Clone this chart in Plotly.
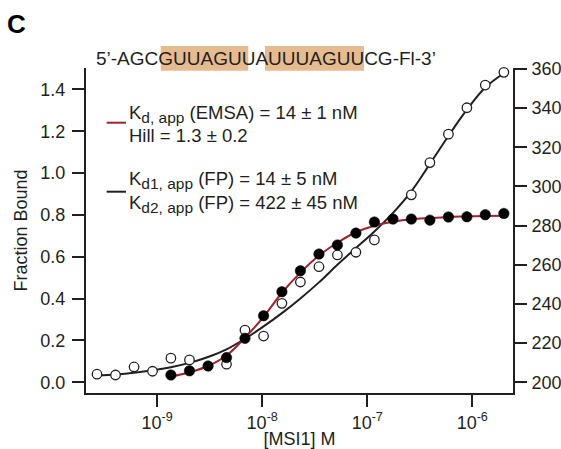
import plotly.graph_objects as go

# ---------------- data ----------------
# FP (fluorescence polarization, mP) - open circles, right axis
fp_conc = [2.67e-10, 4.01e-10, 6.02e-10, 9.02e-10, 1.35e-9, 2.03e-9, 4.57e-9,
           6.85e-9, 1.03e-8, 1.54e-8, 2.31e-8, 3.47e-8, 5.20e-8, 7.80e-8,
           1.17e-7, 2.63e-7, 3.95e-7, 5.93e-7, 8.89e-7, 1.33e-6, 2.00e-6]
fp_mP = [204.1, 203.7, 207.8, 205.6, 212.3, 211.4, 209.2,
         226.6, 223.6, 240.3, 251.2, 259.0, 265.0, 266.4,
         272.7, 295.7, 312.2, 326.7, 340.2, 351.8, 358.3]

# two-site fit curve (black)
fp_fit_conc = [2.67e-10, 4.01e-10, 6.02e-10, 9.02e-10, 1.35e-9, 2.03e-9, 3.05e-9,
               4.57e-9, 6.85e-9, 1.03e-8, 1.54e-8, 2.31e-8, 3.47e-8, 5.20e-8,
               7.80e-8, 1.17e-7, 1.76e-7, 2.63e-7, 3.95e-7, 5.93e-7, 8.89e-7,
               1.33e-6, 2.00e-6]
fp_fit_mP = [203.4, 204.0, 204.9, 206.1, 207.7, 209.9, 212.9,
             216.8, 222.2, 228.5, 235.3, 242.8, 251.0, 260.0,
             268.5, 277.0, 286.5, 297.5, 311.5, 325.8, 339.2,
             350.5, 357.8]

# EMSA fraction bound - filled circles, left axis
emsa_conc = [1.35e-9, 2.03e-9, 3.05e-9, 4.57e-9, 6.85e-9, 1.03e-8, 1.54e-8,
             2.31e-8, 3.47e-8, 5.20e-8, 7.80e-8, 1.17e-7, 1.76e-7, 2.63e-7,
             3.95e-7, 5.93e-7, 8.89e-7, 1.33e-6, 2.00e-6]
emsa_frac = [0.035, 0.055, 0.078, 0.118, 0.210, 0.318, 0.433,
             0.533, 0.613, 0.656, 0.713, 0.766, 0.780, 0.780,
             0.775, 0.790, 0.791, 0.801, 0.807]
# Hill fit curve (red)
emsa_fit = [0.027, 0.048, 0.078, 0.128, 0.213, 0.313, 0.428,
            0.524, 0.606, 0.667, 0.717, 0.748, 0.767, 0.779,
            0.785, 0.790, 0.793, 0.795, 0.796]

x_tickvals = [1e-9, 1e-8, 1e-7, 1e-6]
x_ticktext = ["10<sup>-9</sup>", "10<sup>-8</sup>", "10<sup>-7</sup>", "10<sup>-6</sup>"]
left_ticks = [0.0, 0.2, 0.4, 0.6, 0.8, 1.0, 1.2, 1.4]
right_ticks = [200, 220, 240, 260, 280, 300, 320, 340, 360]

sequence_text = "5\u2019-AGCGUUAGUUAUUUAGUUCG-Fl-3\u2019"
SUB = "<sub><span style='font-size:15.5px'>{}</span></sub>"
legend_lines = ["K" + SUB.format("d, app") + " (EMSA) = 14 \u00b1 1 nM",
                "Hill = 1.3 \u00b1 0.2",
                "K" + SUB.format("d1, app") + " (FP) = 14 \u00b1 5 nM",
                "K" + SUB.format("d2, app") + " (FP) = 422 \u00b1 45 nM"]

# ---------------- style ----------------
FONT = "Liberation Sans, Arial, Helvetica, sans-serif"
INK = "#231f20"
RED = "#a3212a"
PEACH = "#e6bb8f"

W, H = 561, 449
ML, MR, MT, MB = 86, 48, 68, 56
PW, PH = W - ML - MR, H - MT - MB


def px(x):
    return (x - ML) / PW


def py(y):
    return (H - MB - y) / PH


fig = go.Figure()

# FP: black fit + open circles (right axis -> yaxis)
fig.add_trace(go.Scatter(x=fp_fit_conc, y=fp_fit_mP, mode="lines",
                         line=dict(color=INK, width=2, shape="spline"),
                         yaxis="y", showlegend=False, hoverinfo="skip"))
fig.add_trace(go.Scatter(x=fp_conc, y=fp_mP, mode="markers",
                         marker=dict(symbol="circle", size=9.5, color="white",
                                     line=dict(color=INK, width=1.3)),
                         yaxis="y", showlegend=False, cliponaxis=False))
# EMSA: red fit + filled circles (left axis -> yaxis2)
fig.add_trace(go.Scatter(x=emsa_conc, y=emsa_fit, mode="lines",
                         line=dict(color=RED, width=2, shape="spline"),
                         yaxis="y2", showlegend=False, hoverinfo="skip"))
fig.add_trace(go.Scatter(x=emsa_conc, y=emsa_frac, mode="markers",
                         marker=dict(symbol="circle", size=10.5, color="black",
                                     line=dict(color="black", width=0.5)),
                         yaxis="y2", showlegend=False, cliponaxis=False))

axis_common = dict(showgrid=False, zeroline=False, showline=True, linecolor=INK,
                   linewidth=2, ticks="outside", ticklen=12, tickwidth=2,
                   tickcolor=INK, automargin=False,
                   tickfont=dict(family=FONT, size=18, color=INK))

fig.update_layout(
    width=W, height=H,
    margin=dict(l=ML, r=MR, t=MT, b=MB, autoexpand=False),
    paper_bgcolor="white", plot_bgcolor="white",
    font=dict(family=FONT, color=INK),
    xaxis=dict(type="log", range=[-9.678, -5.612], tickvals=x_tickvals,
               ticktext=x_ticktext,
               title=dict(text="[MSI1] M", font=dict(family=FONT, size=18, color=INK),
                          standoff=2),
               **axis_common),
    yaxis=dict(side="right", range=[194.5, 360.5], tickvals=right_ticks,
               ticklabelstandoff=1, **axis_common),
    yaxis2=dict(side="left", overlaying="y", range=[-0.0511, 1.502],
                tickvals=left_ticks, tickformat=".1f", ticklabelstandoff=3,
                title=dict(text="Fraction Bound", font=dict(family=FONT, size=18, color=INK),
                           standoff=8),
                **axis_common),
)

# sequence highlight boxes
for x0, x1 in [(160.7, 248.3), (265.0, 364.0)]:
    fig.add_shape(type="rect", xref="paper", yref="paper",
                  x0=px(x0), x1=px(x1), y0=py(70.7), y1=py(46.0),
                  fillcolor=PEACH, line=dict(width=0), layer="below")

fig.add_annotation(text=sequence_text, xref="paper", yref="paper",
                   x=px(93.5), y=py(58.5), xanchor="left", yanchor="middle",
                   showarrow=False, font=dict(family=FONT, size=19, color=INK))
fig.add_annotation(text="<b>C</b>", xref="paper", yref="paper",
                   x=px(16.5), y=py(24.0), xanchor="center", yanchor="middle",
                   showarrow=False, font=dict(family=FONT, size=26, color="black"))

# legend (line swatches + texts)
fig.add_shape(type="line", xref="paper", yref="paper", x0=px(106.7), x1=px(126),
              y0=py(122.7), y1=py(122.7), line=dict(color=RED, width=2))
fig.add_shape(type="line", xref="paper", yref="paper", x0=px(106.7), x1=px(126),
              y0=py(191.7), y1=py(191.7), line=dict(color=INK, width=2))
for txt, yc in zip(legend_lines, [114.0, 135.0, 180.0, 204.0]):
    fig.add_annotation(text=txt, xref="paper", yref="paper",
                       x=px(126.5), y=py(yc), xanchor="left", yanchor="middle",
                       showarrow=False, font=dict(family=FONT, size=18.5, color=INK))

fig.write_html("out.html")
